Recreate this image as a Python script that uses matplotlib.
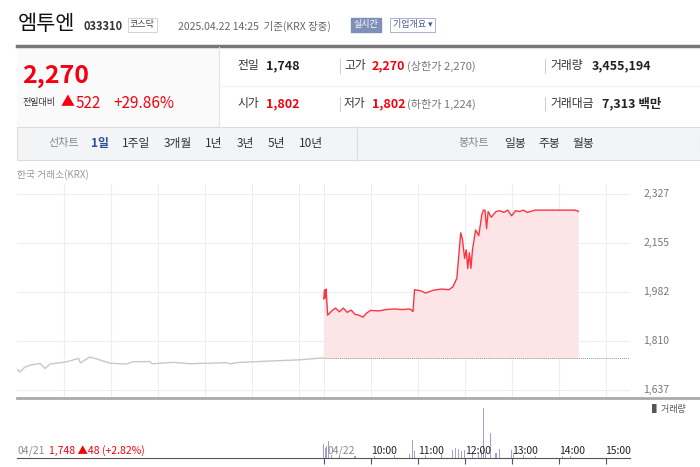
import numpy as np
import matplotlib.pyplot as plt
from matplotlib.patches import Rectangle

plt.rcParams["font.family"] = ["Noto Sans CJK KR", "DejaVu Sans"]

# ---- data ----
# previous day (04/21), hours since 09:00
prev_t = [0.0, 0.06, 0.16, 0.27, 0.49, 0.60, 0.70, 1.06, 1.31, 1.35, 1.55, 1.70, 1.98,
          2.33, 2.47, 2.83, 2.87, 3.33, 3.68, 4.46, 4.53, 4.74, 5.31, 6.02, 6.45, 6.53]
prev_p = [1710, 1700, 1716, 1724, 1730, 1712, 1728, 1736, 1748, 1732, 1753, 1746, 1731,
          1728, 1736, 1737, 1729, 1734, 1729, 1733, 1729, 1734, 1738, 1743, 1749, 1749]

# today (04/22)
today_time = ["09:00", "09:01", "09:02", "09:03", "09:05", "09:10", "09:15", "09:20", "09:25",
              "09:30", "09:35", "09:40", "09:45", "09:50", "09:55", "10:00", "10:10", "10:20",
              "10:30", "10:40", "10:50", "10:54", "10:56", "11:05", "11:10", "11:20", "11:30",
              "11:40", "11:45", "11:50", "11:55", "11:57", "12:00", "12:02", "12:04", "12:06",
              "12:08", "12:10", "12:14", "12:18", "12:22", "12:24", "12:26", "12:28", "12:30",
              "12:34", "12:40", "12:45", "12:50", "12:55", "13:00", "13:05", "13:10", "13:15",
              "13:20", "13:25", "13:30", "14:00", "14:20", "14:24", "14:25"]
today_p = [1957, 1989, 1960, 1992, 1900, 1915, 1925, 1912, 1925, 1910, 1918, 1903, 1900,
           1893, 1908, 1917, 1915, 1920, 1922, 1920, 1922, 1913, 1990, 1985, 1978, 1988,
           1992, 1990, 2000, 2030, 2190, 2170, 2100, 2130, 2065, 2120, 2065, 2130, 2200,
           2180, 2255, 2270, 2270, 2205, 2265, 2245, 2265, 2268, 2262, 2270, 2250, 2268,
           2265, 2270, 2262, 2266, 2270, 2270, 2270, 2268, 2265]

vol_time = ["09:00", "09:02", "09:04", "09:06", "09:10", "09:20", "09:40", "10:05", "10:30",
            "10:50", "10:53", "10:56", "11:10", "11:30", "11:45", "11:48", "11:52", "11:56",
            "12:00", "12:10", "12:18", "12:22", "12:24", "12:27", "12:33", "12:40", "12:45",
            "13:00", "13:02", "13:15", "13:30", "14:05", "14:15"]
vol = [14, 10, 12, 16, 3, 2, 2, 2, 3, 4, 17, 7, 3, 4, 8, 10, 9, 7, 8, 4, 5, 8, 48, 6, 24,
       5, 9, 8, 5, 3, 2, 2, 2]

y_ticks = [1637, 1810, 1982, 2155, 2327]
prev_close = 1748
DAY2 = 6.53


def hrs(s):
    h, m = s.split(":")
    return DAY2 + int(h) - 9 + int(m) / 60


tt = np.array([hrs(s) for s in today_time])
vt = np.array([hrs(s) for s in vol_time])

W, H = 700, 467
fig = plt.figure(figsize=(7, 4.67), dpi=100)


def ax_px(x0, y0, x1, y1):
    a = fig.add_axes([x0 / W, 1 - y1 / H, (x1 - x0) / W, (y1 - y0) / H])
    a.patch.set_alpha(0)
    return a


def txt(x, y, s, **kw):
    fig.text(x / W, 1 - y / H, s, va="center", **kw)


RED = "#f5000f"
DARK = "#222222"

deco = fig.add_axes([0, 0, 1, 1])
deco.set_xlim(0, W)
deco.set_ylim(H, 0)
deco.axis("off")
deco.add_patch(Rectangle((17, 47), 202, 80, fc="#fafafa", ec="none"))
deco.plot([17, 700], [46, 46], color="#777", lw=2.5)
deco.plot([219, 219], [47, 127], color="#e3e3e3", lw=0.8)
deco.plot([219, 700], [86, 86], color="#eeeeee", lw=0.8)
deco.add_patch(Rectangle((17, 127), 683, 33, fc="#f3f4f6", ec="#dcdcdc", lw=0.8))
deco.plot([357, 357], [127, 160], color="#ddd", lw=0.8)
for x in [340, 545]:
    deco.plot([x, x], [59, 73], color="#ccc", lw=0.7)
    deco.plot([x, x], [97, 111], color="#ccc", lw=0.7)
deco.plot([17, 700], [398, 398], color="#aaa", lw=2)

# ---- header ----
txt(18, 24, "엠투엔", fontsize=15, color="#111")
txt(84, 26, "033310", fontsize=8, color="#333", weight="bold")
txt(130, 25, "코스닥", fontsize=6.5, color="#444",
    bbox=dict(boxstyle="square,pad=0.25", fc="white", ec="#ccc", lw=0.6))
txt(178, 26, "2025.04.22 14:25  기준(KRX 장중)", fontsize=7.5, color="#666")
txt(354, 25, "실시간", fontsize=6.5, color="white",
    bbox=dict(boxstyle="square,pad=0.3", fc="#7f8fb8", ec="#7f8fb8"))
txt(393, 25, "기업개요 ▾", fontsize=6.5, color="#4a5a9a",
    bbox=dict(boxstyle="square,pad=0.3", fc="white", ec="#9aa6cc", lw=0.6))

txt(22, 76, "2,270", fontsize=18, color=RED, weight="bold")
txt(22, 103, "전일대비", fontsize=6.5, color="#333")
txt(61, 102, "▲", fontsize=10, color=RED)
txt(76, 103, "522", fontsize=11, color=RED)
txt(113, 103, "+29.86%", fontsize=11, color=RED)

txt(237, 66, "전일", fontsize=8.5, color="#333")
txt(266, 66, "1,748", fontsize=9, color=DARK, weight="bold")
txt(237, 104, "시가", fontsize=8.5, color="#333")
txt(266, 104, "1,802", fontsize=9, color=RED, weight="bold")
txt(344, 66, "고가", fontsize=8.5, color="#333")
txt(372, 66, "2,270", fontsize=9, color=RED, weight="bold")
txt(407, 66, "(상한가 2,270)", fontsize=8, color="#777")
txt(344, 104, "저가", fontsize=8.5, color="#333")
txt(372, 104, "1,802", fontsize=9, color=RED, weight="bold")
txt(407, 104, "(하한가 1,224)", fontsize=8, color="#777")
txt(550, 66, "거래량", fontsize=8.5, color="#333")
txt(592, 66, "3,455,194", fontsize=9, color=DARK, weight="bold")
txt(550, 104, "거래대금", fontsize=8.5, color="#333")
txt(602, 104, "7,313 백만", fontsize=9, color=DARK, weight="bold")

txt(48, 143, "선차트", fontsize=8, color="#888")
txt(91, 143, "1일", fontsize=8.5, color="#2a4ea0", weight="bold")
for x, s in [(122, "1주일"), (164, "3개월"), (205, "1년"), (237, "3년"), (268, "5년"), (299, "10년")]:
    txt(x, 143, s, fontsize=8.5, color="#333")
txt(458, 143, "봉차트", fontsize=8, color="#888")
for x, s in [(504, "일봉"), (538, "주봉"), (572, "월봉")]:
    txt(x, 143, s, fontsize=8.5, color="#333")

txt(17, 175, "한국 거래소(KRX)", fontsize=7, color="#999")

# ---- price chart ----
ax = ax_px(17, 184, 630, 397)
ax.set_xlim(0, 13.05)
ax.set_ylim(1612, 2362)
for v in y_ticks:
    ax.axhline(v, color="#eeeeee", lw=0.8, zorder=0)
for g in list(range(1, 7)) + [DAY2 + k for k in range(7)]:
    ax.axvline(g, color="#eeeeee", lw=0.8, zorder=0)
ax.plot(prev_t, prev_p, color="#c5c8cc", lw=1)
ax.fill_between(tt, prev_close, today_p, color="#fde4e6", lw=0)
ax.plot(tt, today_p, color="#ff3340", lw=1)
ax.plot([DAY2, 13.05], [prev_close, prev_close], color="#999", lw=0.7, ls=(0, (1, 1)))
ax.set_xticks([])
ax.set_yticks([])
for s in ax.spines.values():
    s.set_visible(False)
for v in y_ticks:
    ax.text(1.022, (v - 1612) / (2362 - 1612), f"{v:,}", transform=ax.transAxes,
            fontsize=7.5, color="#777", va="center")

# ---- volume ----
vx = ax_px(17, 400, 630, 458)
vx.set_xlim(0, 13.05)
vx.set_ylim(0, 56)
vx.bar(vt, vol, width=0.025, color="#a99bd3")
vx.set_xticks([DAY2 + k for k in range(7)])
vx.set_xticklabels([])
vx.tick_params(length=4, color="#555")
vx.set_yticks([])
for k in ["top", "right", "left"]:
    vx.spines[k].set_visible(False)
vx.spines["bottom"].set_color("#555")
txt(652, 409, "▌거래량", fontsize=6.5, color="#555")

txt(17, 451, "04/21", fontsize=7.5, color="#888")
txt(49, 451, "1,748 ▲48 (+2.82%)", fontsize=7.5, color=RED)
txt(327, 451, "04/22", fontsize=7.5, color="#888")
for k, lab in enumerate(["10:00", "11:00", "12:00", "13:00", "14:00", "15:00"]):
    x = 17 + (DAY2 + k + 1) / 13.05 * 613
    txt(x, 451, lab, fontsize=7.5, color="#222")

fig.savefig("out.png", dpi=100)
